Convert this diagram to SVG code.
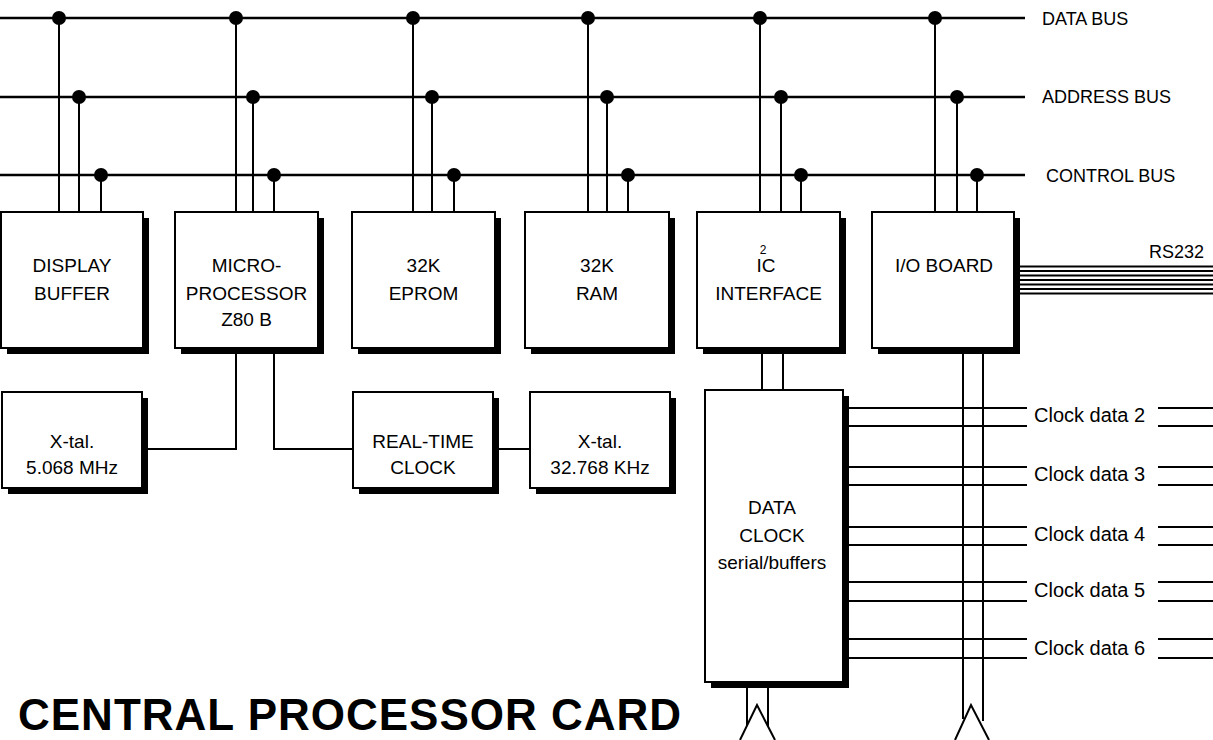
<svg xmlns="http://www.w3.org/2000/svg" width="1213" height="740" viewBox="0 0 1213 740">
<style>
.bus{stroke:#000;stroke-width:2.5;fill:none}
.ln{stroke:#000;stroke-width:2;fill:none}
.box{fill:#fff;stroke:#000;stroke-width:2}
.sh{fill:#000}
.t{font-family:"Liberation Sans",Arial,sans-serif;font-size:19px;fill:#000;text-anchor:middle}
.lbl{font-family:"Liberation Sans",Arial,sans-serif;font-size:18px;fill:#000}
.cd{font-family:"Liberation Sans",Arial,sans-serif;font-size:20px;fill:#000}
</style>
<defs>
<circle id="dot" r="7" fill="#000"/>
</defs>
<g id="connectors">
<line class="bus" x1="0" y1="18" x2="1025" y2="18"/>
<line class="bus" x1="0" y1="97" x2="1025" y2="97"/>
<line class="bus" x1="0" y1="175" x2="1025" y2="175"/>
<path class="ln" d="M59 18V212M79 97V212M101 175V212 M236 18V212M253 97V212M274 175V212 M413 18V212M432 97V212M454 175V212 M588 18V212M607 97V212M628 175V212 M760 18V212M781 97V212M801 175V212 M935 18V212M957 97V212M977 175V212"/>
<use href="#dot" x="59" y="18"/><use href="#dot" x="79" y="97"/><use href="#dot" x="101" y="175"/>
<use href="#dot" x="236" y="18"/><use href="#dot" x="253" y="97"/><use href="#dot" x="274" y="175"/>
<use href="#dot" x="413" y="18"/><use href="#dot" x="432" y="97"/><use href="#dot" x="454" y="175"/>
<use href="#dot" x="588" y="18"/><use href="#dot" x="607" y="97"/><use href="#dot" x="628" y="175"/>
<use href="#dot" x="760" y="18"/><use href="#dot" x="781" y="97"/><use href="#dot" x="801" y="175"/>
<use href="#dot" x="935" y="18"/><use href="#dot" x="957" y="97"/><use href="#dot" x="977" y="175"/>
<path class="ln" d="M236 348V449H145 M274 348V449H353 M497 449H530"/>
<path class="ln" d="M762 348V390 M783 348V390"/>
<path class="ln" d="M963 348V719 M983 348V721 M747 682V726 M768 682V727"/>
<path class="ln" d="M740 740L757 705L775 740 M955 740L971 705L989 740"/>
<path class="ln" d="M1015 266.5H1213M1015 271H1213M1015 275.5H1213M1015 280H1213M1015 284.5H1213M1015 289H1213M1015 293.5H1213"/>
<path class="ln" d="M845 408H1027M845 426H1027M845 467H1027M845 485H1027M845 527H1027M845 545H1027M845 582H1027M845 601H1027M845 639H1027M845 658H1027"/>
<path class="ln" d="M1158 408H1213M1158 426H1213M1158 467H1213M1158 485H1213M1158 527H1213M1158 545H1213M1158 582H1213M1158 601H1213M1158 639H1213M1158 658H1213"/>
</g>
<g id="display-buffer">
<rect class="sh" x="7" y="218" width="142" height="136"/>
<rect class="box" x="1" y="212" width="142" height="136"/>
<text class="t" x="72" y="272">DISPLAY</text>
<text class="t" x="72" y="300">BUFFER</text>
</g>
<g id="microprocessor">
<rect class="sh" x="181" y="218" width="143" height="136"/>
<rect class="box" x="175" y="212" width="143" height="136"/>
<text class="t" x="246.5" y="272">MICRO-</text>
<text class="t" x="246.5" y="300">PROCESSOR</text>
<text class="t" x="246.5" y="326">Z80 B</text>
</g>
<g id="eprom">
<rect class="sh" x="358" y="218" width="143" height="136"/>
<rect class="box" x="352" y="212" width="143" height="136"/>
<text class="t" x="423.5" y="272">32K</text>
<text class="t" x="423.5" y="300">EPROM</text>
</g>
<g id="ram">
<rect class="sh" x="531" y="218" width="144" height="136"/>
<rect class="box" x="525" y="212" width="144" height="136"/>
<text class="t" x="597" y="272">32K</text>
<text class="t" x="597" y="300">RAM</text>
</g>
<g id="i2c-interface">
<rect class="sh" x="703" y="218" width="143" height="136"/>
<rect class="box" x="697" y="212" width="143" height="136"/>
<text class="t" x="766" y="272">IC</text>
<text class="t" x="763" y="254" style="font-size:12px">2</text>
<text class="t" x="768.5" y="300">INTERFACE</text>
</g>
<g id="io-board">
<rect class="sh" x="878" y="218" width="142" height="136"/>
<rect class="box" x="872" y="212" width="142" height="136"/>
<text class="t" x="944" y="272">I/O BOARD</text>
</g>
<g id="xtal-5068">
<rect class="sh" x="8" y="398" width="140" height="96"/>
<rect class="box" x="2" y="392" width="140" height="96"/>
<text class="t" x="72" y="448">X-tal.</text>
<text class="t" x="72" y="474">5.068 MHz</text>
</g>
<g id="real-time-clock">
<rect class="sh" x="359" y="398" width="140" height="96"/>
<rect class="box" x="353" y="392" width="140" height="96"/>
<text class="t" x="423" y="448">REAL-TIME</text>
<text class="t" x="423" y="474">CLOCK</text>
</g>
<g id="xtal-32768">
<rect class="sh" x="536" y="398" width="140" height="96"/>
<rect class="box" x="530" y="392" width="140" height="96"/>
<text class="t" x="600" y="448">X-tal.</text>
<text class="t" x="600" y="474">32.768 KHz</text>
</g>
<g id="data-clock">
<rect class="sh" x="711" y="396" width="138" height="292"/>
<rect class="box" x="705" y="390" width="138" height="292"/>
<text class="t" x="772" y="514">DATA</text>
<text class="t" x="772" y="542">CLOCK</text>
<text class="t" x="772" y="569">serial/buffers</text>
</g>
<g id="labels">
<text class="lbl" x="1042" y="25">DATA BUS</text>
<text class="lbl" x="1042" y="103">ADDRESS BUS</text>
<text class="lbl" x="1046" y="182">CONTROL BUS</text>
<text class="lbl" x="1204" y="258" text-anchor="end">RS232</text>
<text class="cd" x="1034" y="422">Clock data 2</text>
<text class="cd" x="1034" y="481">Clock data 3</text>
<text class="cd" x="1034" y="541">Clock data 4</text>
<text class="cd" x="1034" y="597">Clock data 5</text>
<text class="cd" x="1034" y="655">Clock data 6</text>
<text x="18" y="730" style="font-family:'Liberation Sans',Arial,sans-serif;font-size:44px;font-weight:bold;letter-spacing:1px">CENTRAL PROCESSOR CARD</text>
</g>
</svg>
